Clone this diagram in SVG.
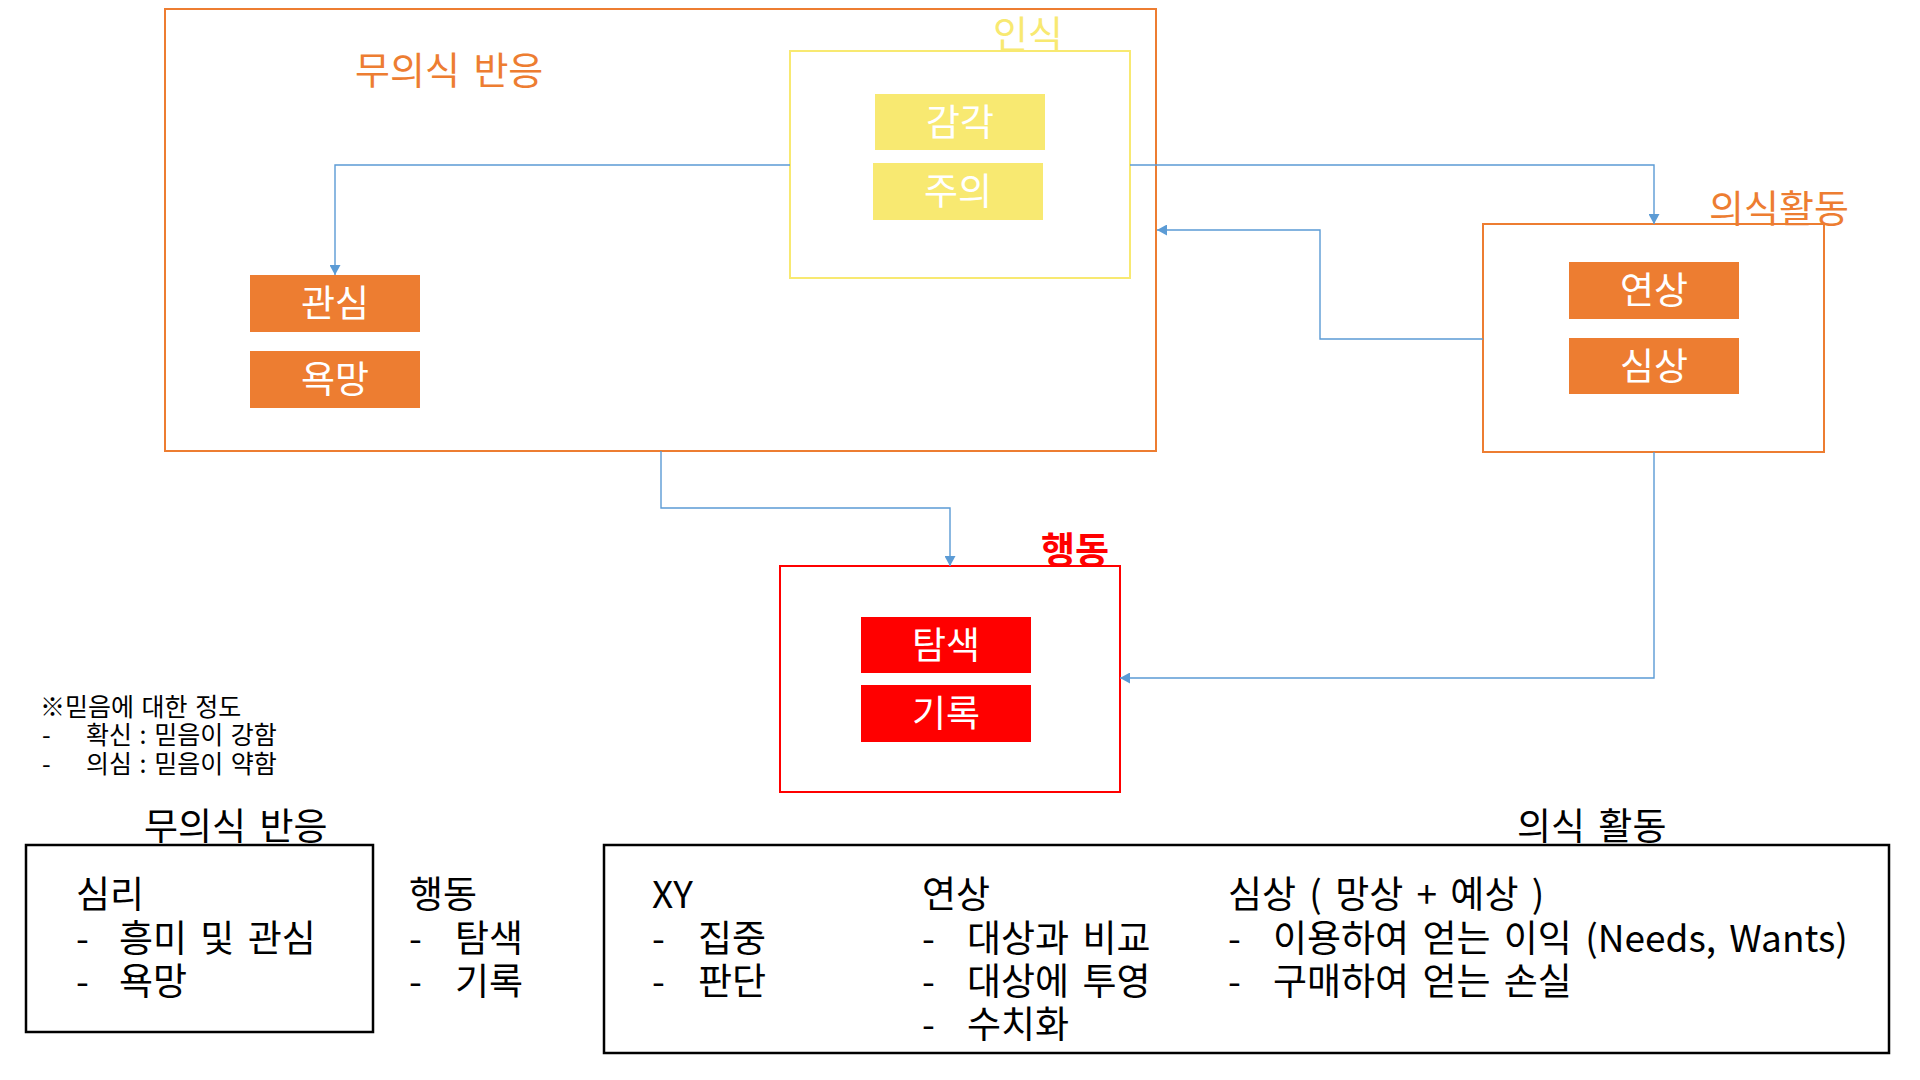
<svg xmlns="http://www.w3.org/2000/svg" width="1920" height="1080" viewBox="0 0 1920 1080">
<defs>
<style>
text{font-family:"Malgun Gothic","Noto Sans CJK KR","Noto Sans",sans-serif;}
.lbl{font-size:38px;dominant-baseline:central;word-spacing:5px;}
.box{font-size:37px;fill:#FFFFFF;text-anchor:middle;dominant-baseline:central;}
.orange{fill:#ED7D31;}
.yellowT{fill:#F8E971;}
.body{font-size:37px;fill:#000000;dominant-baseline:central;word-spacing:5px;}
.note{font-size:25px;fill:#000000;dominant-baseline:central;word-spacing:2px;}
.frameO{fill:none;stroke:#ED7D31;stroke-width:2;}
.frameY{fill:none;stroke:#F8E971;stroke-width:2;}
.frameR{fill:none;stroke:#FF0000;stroke-width:2;}
.frameK{fill:none;stroke:#000000;stroke-width:2.5;}
.conn{fill:none;stroke:#5B9BD5;stroke-width:1.4;marker-end:url(#arr);}
</style>
<marker id="arr" markerUnits="userSpaceOnUse" markerWidth="11" markerHeight="11" refX="10" refY="5.5" orient="auto">
<path d="M0,0 L10,5.5 L0,11 z" fill="#5B9BD5"/>
</marker>
</defs>
<rect width="1920" height="1080" fill="#FFFFFF"/>

<g id="unconscious">
<rect class="frameO" x="165" y="9" width="991" height="442"/>
<text class="lbl orange" x="355" y="67">무의식 반응</text>
</g>

<g id="recognition">
<rect class="frameY" x="790" y="51" width="340" height="227"/>
<text class="lbl yellowT" x="993" y="31">인식</text>
</g>

<g id="node-gamgak">
<rect x="875" y="94" width="170" height="56" fill="#F8E971"/>
<text class="box" x="960" y="120">감각</text>
</g>
<g id="node-jueui">
<rect x="873" y="163" width="170" height="57" fill="#F8E971"/>
<text class="box" x="958" y="189">주의</text>
</g>

<g id="node-gwansim">
<rect x="250" y="275" width="170" height="57" fill="#ED7D31"/>
<text class="box" x="335" y="301">관심</text>
</g>
<g id="node-yokmang">
<rect x="250" y="351" width="170" height="57" fill="#ED7D31"/>
<text class="box" x="335" y="377">욕망</text>
</g>

<g id="conscious">
<rect class="frameO" x="1483" y="224" width="341" height="228"/>
<text class="lbl orange" x="1709" y="205">의식활동</text>
</g>
<g id="node-yeonsang">
<rect x="1569" y="262" width="170" height="57" fill="#ED7D31"/>
<text class="box" x="1654" y="288">연상</text>
</g>
<g id="node-simsang">
<rect x="1569" y="338" width="170" height="56" fill="#ED7D31"/>
<text class="box" x="1654" y="364">심상</text>
</g>

<g id="action">
<rect class="frameR" x="780" y="566" width="340" height="226"/>
<text class="lbl" x="1041" y="548" style="font-size:37px;font-weight:bold;fill:#FF0000">행동</text>
</g>
<g id="node-tamsaek">
<rect x="861" y="617" width="170" height="56" fill="#FF0000"/>
<text class="box" x="946" y="643">탐색</text>
</g>
<g id="node-girok">
<rect x="861" y="685" width="170" height="57" fill="#FF0000"/>
<text class="box" x="946" y="711">기록</text>
</g>

<g id="connectors">
<path class="conn" d="M790,165 H335 V275"/>
<path class="conn" d="M1130,165 H1654 V224"/>
<path class="conn" d="M1483,339 H1320 V230 H1157"/>
<path class="conn" d="M661,451 V508 H950 V566"/>
<path class="conn" d="M1654,452 V678 H1120"/>
</g>

<g id="note">
<text class="note" x="40" y="705">※믿음에 대한 정도</text>
<text class="note" y="733"><tspan x="42">-</tspan><tspan x="86">확신 : 믿음이 강함</tspan></text>
<text class="note" y="762"><tspan x="42">-</tspan><tspan x="86">의심 : 믿음이 약함</tspan></text>
</g>

<g id="summary-unconscious">
<text class="body" x="144" y="824">무의식 반응</text>
<rect class="frameK" x="26" y="845" width="347" height="187"/>
<text class="body" x="76" y="892">심리</text>
<text class="body" y="936"><tspan x="76">-</tspan><tspan x="119">흥미 및 관심</tspan></text>
<text class="body" y="979"><tspan x="76">-</tspan><tspan x="119">욕망</tspan></text>
</g>

<g id="summary-action">
<text class="body" x="409" y="892">행동</text>
<text class="body" y="936"><tspan x="409">-</tspan><tspan x="455">탐색</tspan></text>
<text class="body" y="979"><tspan x="409">-</tspan><tspan x="455">기록</tspan></text>
</g>

<g id="summary-conscious">
<text class="body" x="1517" y="824">의식 활동</text>
<rect class="frameK" x="604" y="845" width="1285" height="208"/>
<text class="body" x="652" y="892">XY</text>
<text class="body" y="936"><tspan x="652">-</tspan><tspan x="698">집중</tspan></text>
<text class="body" y="979"><tspan x="652">-</tspan><tspan x="698">판단</tspan></text>
<text class="body" x="922" y="892">연상</text>
<text class="body" y="936"><tspan x="922">-</tspan><tspan x="967">대상과 비교</tspan></text>
<text class="body" y="979"><tspan x="922">-</tspan><tspan x="967">대상에 투영</tspan></text>
<text class="body" y="1022"><tspan x="922">-</tspan><tspan x="967">수치화</tspan></text>
<text class="body" x="1228" y="892">심상 ( 망상 + 예상 )</text>
<text class="body" y="936"><tspan x="1228">-</tspan><tspan x="1273">이용하여 얻는 이익 (Needs, Wants)</tspan></text>
<text class="body" y="979"><tspan x="1228">-</tspan><tspan x="1273">구매하여 얻는 손실</tspan></text>
</g>
</svg>
